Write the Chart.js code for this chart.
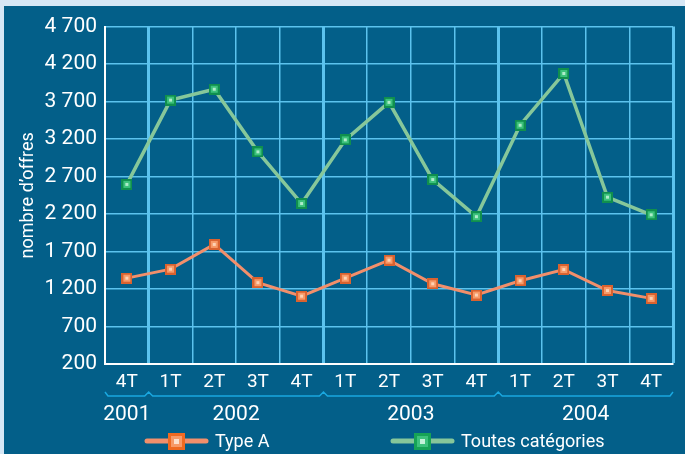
<!DOCTYPE html>
<html>
<head>
<meta charset="utf-8">
<script src="https://cdn.jsdelivr.net/npm/chart.js@4.4.1/dist/chart.umd.min.js"></script>
<style>
html, body { margin: 0; padding: 0; background: #d6e7f5; }
#wrap { position: absolute; left: 4px; top: 6px; width: 681px; height: 448px; background: #035f89; }
</style>
</head>
<body>
<div id="wrap"><canvas id="chart" width="681" height="448"></canvas></div>
<script>
// données
var quarters = ['4T', '1T', '2T', '3T', '4T', '1T', '2T', '3T', '4T', '1T', '2T', '3T', '4T'];
var years = ['2001', '2002', '2003', '2004'];
var yearOfQuarter = [0, 1, 1, 1, 1, 2, 2, 2, 2, 3, 3, 3, 3];
var typeA = [1345, 1465, 1795, 1285, 1105, 1345, 1585, 1270, 1120, 1310, 1460, 1180, 1075];
var toutes = [2595, 3720, 3865, 3030, 2340, 3190, 3690, 2660, 2165, 3385, 4075, 2425, 2190];
var yMin = 200, yMax = 4700, yStep = 500;

var FONT = 'Roboto';
var GRID = '#5cc3ee';

function marker(size, outer, mid, inner) {
    var c = document.createElement('canvas');
    c.width = size; c.height = size;
    var g = c.getContext('2d');
    var b = Math.round(size / 6);
    g.fillStyle = outer; g.fillRect(0, 0, size, size);
    g.fillStyle = mid; g.fillRect(b, b, size - 2 * b, size - 2 * b);
    g.fillStyle = inner; g.fillRect(2 * b, 2 * b, size - 4 * b, size - 4 * b);
    return c;
}

var orangeMark = marker(11, '#d9622f', '#f79a68', '#fdd2b4');
var greenMark = marker(11, '#108f4e', '#3cc27c', '#aeeccb');

function sep(v) {
    return String(v).replace(/\B(?=(\d{3})+(?!\d))/g, ' ');
}

// années, accolade et légende sous l'axe
var extras = {
    id: 'extras',
    afterDraw: function (chart) {
        var ctx = chart.ctx, x = chart.scales.x, area = chart.chartArea;
        var step = x.getPixelForValue(1) - x.getPixelForValue(0);
        var braceY = area.bottom + 32;
        ctx.save();

        // accolade
        ctx.strokeStyle = '#1aa8e0';
        ctx.lineWidth = 1.5;
        ctx.beginPath();
        ctx.moveTo(area.left, braceY - 4);
        ctx.lineTo(area.left + 3, braceY);
        for (var i = 1; i < quarters.length; i++) {
            if (yearOfQuarter[i] !== yearOfQuarter[i - 1]) {
                var b = x.getPixelForValue(i) - step / 2;
                ctx.lineTo(b - 4, braceY);
                ctx.lineTo(b, braceY - 4);
                ctx.lineTo(b + 4, braceY);
            }
        }
        ctx.lineTo(area.right - 3, braceY);
        ctx.lineTo(area.right, braceY - 4);
        ctx.stroke();

        // années
        ctx.fillStyle = '#ffffff';
        ctx.font = '21px ' + FONT;
        ctx.textAlign = 'center';
        ctx.textBaseline = 'middle';
        years.forEach(function (yr, k) {
            var first = yearOfQuarter.indexOf(k), last = yearOfQuarter.lastIndexOf(k);
            var cx = (x.getPixelForValue(first) + x.getPixelForValue(last)) / 2;
            ctx.fillText(yr, cx, area.bottom + 51);
        });

        // légende
        var ly = area.bottom + 77;
        var items = [
            { label: 'Type A', color: '#f28f6b', mark: marker(17, '#ef6a22', '#f79a68', '#fde0cc'), x0: 143 },
            { label: 'Toutes catégories', color: '#86c79a', mark: marker(17, '#16a356', '#3cc27c', '#c4f2da'), x0: 389 }
        ];
        ctx.font = '18px ' + FONT;
        ctx.textAlign = 'left';
        items.forEach(function (it) {
            ctx.strokeStyle = it.color;
            ctx.lineWidth = 5;
            ctx.lineCap = 'round';
            ctx.beginPath();
            ctx.moveTo(it.x0, ly);
            ctx.lineTo(it.x0 + 59, ly);
            ctx.stroke();
            ctx.drawImage(it.mark, it.x0 + 21, ly - 8);
            ctx.fillText(it.label, it.x0 + 68, ly + 1);
        });
        ctx.restore();
    }
};

Chart.defaults.font.family = FONT;
Chart.defaults.color = '#ffffff';

new Chart(document.getElementById('chart'), {
    type: 'line',
    data: {
        labels: quarters,
        datasets: [{
            label: 'Type A',
            data: typeA,
            borderColor: '#f28f6b',
            borderWidth: 3,
            pointStyle: orangeMark,
            tension: 0
        }, {
            label: 'Toutes catégories',
            data: toutes,
            borderColor: '#86c79a',
            borderWidth: 3.5,
            pointStyle: greenMark,
            tension: 0
        }]
    },
    options: {
        responsive: false,
        animation: false,
        layout: { padding: { top: 16, right: 12, bottom: 0, left: 0 } },
        plugins: {
            legend: { display: false },
            tooltip: { enabled: false }
        },
        scales: {
            x: {
                offset: true,
                grid: {
                    offset: true,
                    color: GRID,
                    drawTicks: false,
                    lineWidth: function (c) {
                        if (c.index === undefined) return 3;
                        if (c.index > 0 && yearOfQuarter[c.index] !== yearOfQuarter[c.index - 1]) return 3;
                        return 1.5;
                    }
                },
                border: { color: '#ffffff', width: 2 },
                ticks: { font: { size: 19 }, padding: 7, maxRotation: 0 },
                afterFit: function (s) { s.height = 90; }
            },
            y: {
                min: yMin,
                max: yMax,
                grid: { color: GRID, lineWidth: 1.5, drawTicks: false },
                border: { color: '#ffffff', width: 2 },
                ticks: {
                    stepSize: yStep,
                    font: { size: 21 },
                    padding: 8,
                    callback: function (v) { return sep(v); }
                },
                title: {
                    display: true,
                    text: 'nombre d’offres',
                    font: { size: 18 },
                    padding: { top: 14, bottom: 0 }
                },
                afterFit: function (s) { s.width = 101; }
            }
        }
    },
    plugins: [extras]
});
</script>
</body>
</html>
